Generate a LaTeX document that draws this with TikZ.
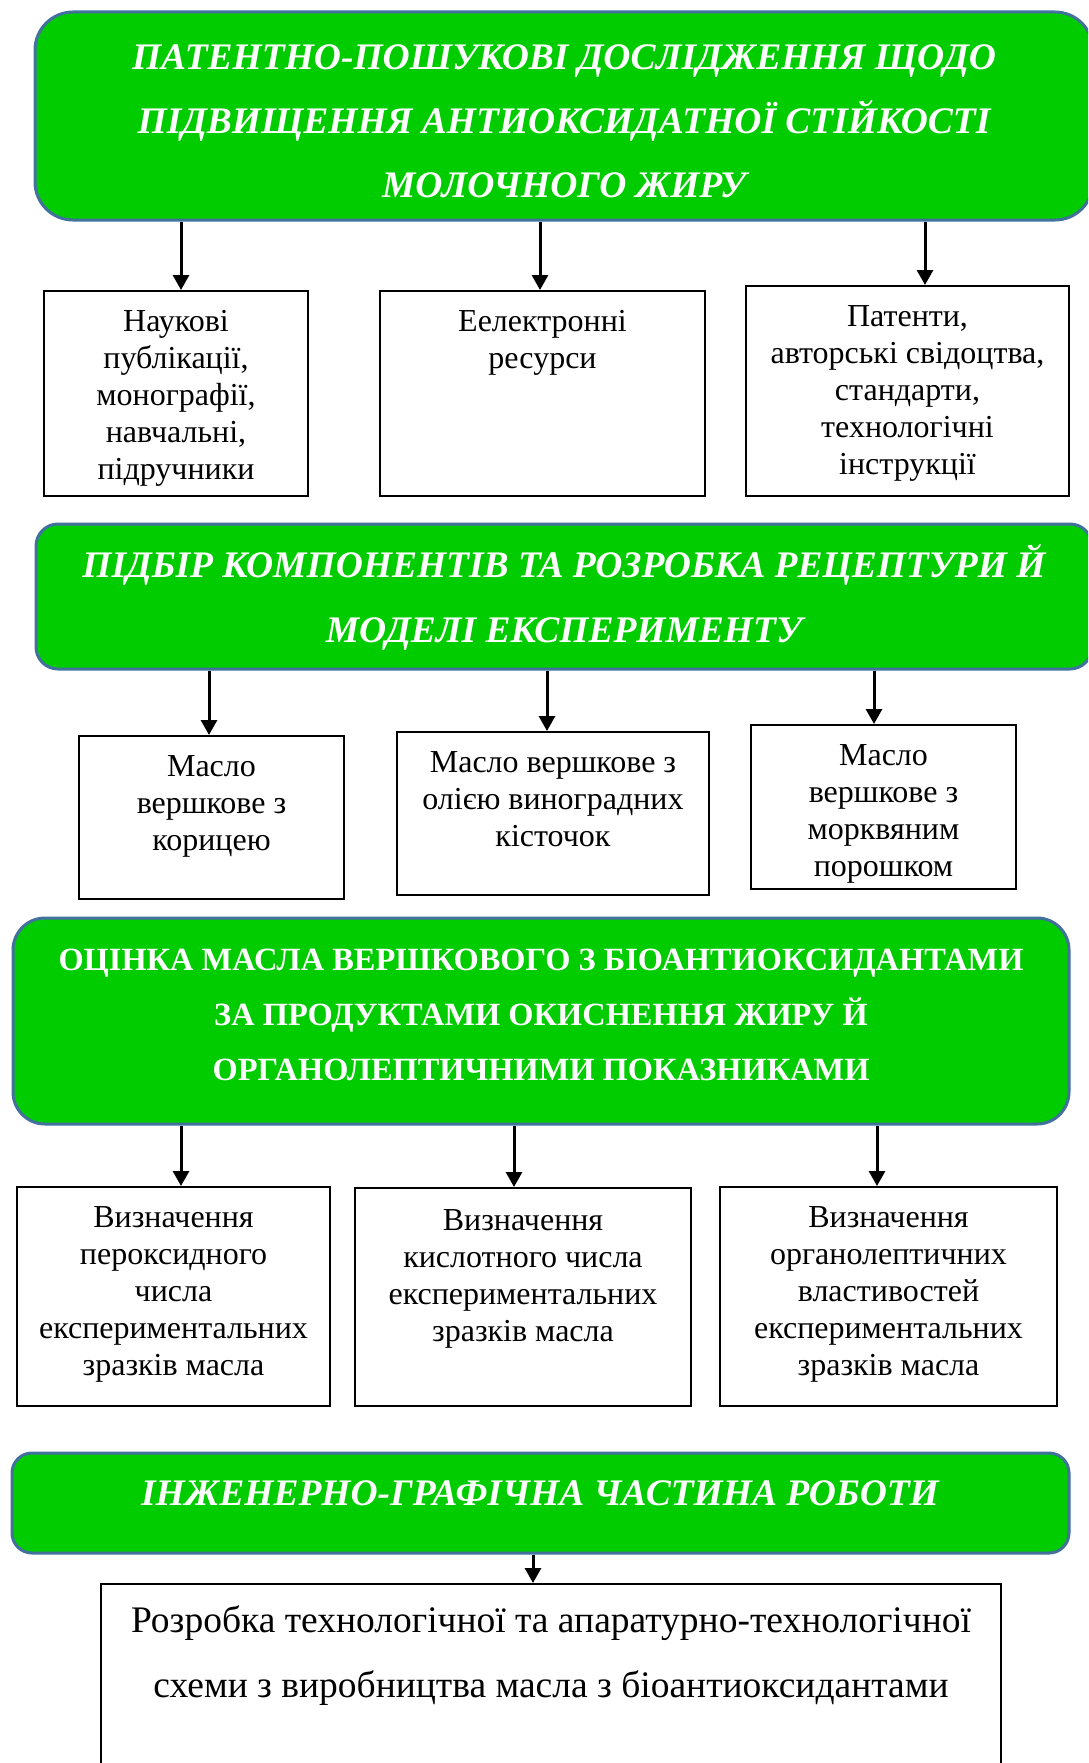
\documentclass[tikz,border=0pt]{standalone}
\usepackage{fontspec}
\setmainfont{Liberation Serif}
\usetikzlibrary{arrows.meta,calc}

\definecolor{grnfill}{HTML}{00CC00}
\definecolor{grnline}{HTML}{41719C}

\begin{document}
\begin{tikzpicture}[
  x=1pt, y=-1pt,
  hdr/.style={draw=grnline, line width=3pt, fill=grnfill, inner sep=0pt},
  hdrtxt/.style={text=white, align=center, inner sep=0pt,
                 font=\fontsize{37.5}{64}\selectfont\bfseries\itshape},
  box/.style={draw, line width=2pt, inner sep=0pt},
  boxtxt/.style={align=center, anchor=north, inner sep=0pt, yshift=-20pt,
                 font=\fontsize{32}{37}\selectfont},
  arr/.style={-{Triangle[length=15pt, width=16pt]}, line width=3pt}
]
\useasboundingbox (0,0) rectangle (1088,1763);
\clip (0,0) rectangle (1088,1763);

% patent search
\node[hdr, rounded corners=38pt, minimum width=1058pt, minimum height=208pt] (g1) at (564,116) {};
\node[hdrtxt] (g1txt) at (564,121) {ПАТЕНТНО-ПОШУКОВІ ДОСЛІДЖЕННЯ ЩОДО\\ ПІДВИЩЕННЯ АНТИОКСИДАТНОЇ СТІЙКОСТІ\\ МОЛОЧНОГО ЖИРУ};
\node[box, minimum width=264pt, minimum height=205pt] (b1a) at (176,393.5) {};
\node[box, minimum width=325pt, minimum height=205pt] (b1b) at (542.5,393.5) {};
\node[box, minimum width=323pt, minimum height=210pt] (b1c) at (907.5,391) {};
\node[boxtxt] (t1a) at (b1a.north) {Наукові\\ публікації,\\ монографії,\\ навчальні,\\ підручники};
\node[boxtxt] (t1b) at (b1b.north) {Еелектронні\\ ресурси};
\node[boxtxt] (t1c) at (b1c.north) {Патенти,\\ авторські свідоцтва,\\ стандарти,\\ технологічні\\ інструкції};

% recipe
\node[hdr, rounded corners=22pt, minimum width=1056pt, minimum height=145pt] (g2) at (564,596.5) {};
\node[hdrtxt, font=\fontsize{37.5}{65}\selectfont\bfseries\itshape] (g2txt) at (564,597) {ПІДБІР КОМПОНЕНТІВ ТА РОЗРОБКА РЕЦЕПТУРИ Й\\ МОДЕЛІ ЕКСПЕРИМЕНТУ};
\node[box, minimum width=265pt, minimum height=163pt] (b2a) at (211.5,817.5) {};
\node[box, minimum width=312pt, minimum height=163pt] (b2b) at (553,813.5) {};
\node[box, minimum width=265pt, minimum height=164pt] (b2c) at (883.5,807) {};
\node[boxtxt] (t2a) at (b2a.north) {Масло\\ вершкове з\\ корицею};
\node[boxtxt] (t2b) at (b2b.north) {Масло вершкове з\\ олією виноградних\\ кісточок};
\node[boxtxt] (t2c) at (b2c.north) {Масло\\ вершкове з\\ морквяним\\ порошком};

% evaluation
\node[hdr, rounded corners=32pt, minimum width=1056pt, minimum height=206pt] (g3) at (541,1021) {};
\node[hdrtxt, font=\fontsize{32.4}{55}\selectfont\bfseries] (g3txt) at (541,1015) {ОЦІНКА МАСЛА ВЕРШКОВОГО З БІОАНТИОКСИДАНТАМИ\\ ЗА ПРОДУКТАМИ ОКИСНЕННЯ ЖИРУ Й\\ ОРГАНОЛЕПТИЧНИМИ ПОКАЗНИКАМИ};
\node[box, minimum width=313pt, minimum height=219pt] (b3a) at (173.5,1296.5) {};
\node[box, minimum width=336pt, minimum height=218pt] (b3b) at (523,1297) {};
\node[box, minimum width=337pt, minimum height=219pt] (b3c) at (888.5,1296.5) {};
\node[boxtxt] (t3a) at (b3a.north) {Визначення\\ пероксидного\\ числа\\ експериментальних\\ зразків масла};
\node[boxtxt, yshift=-2pt] (t3b) at (b3b.north) {Визначення\\ кислотного числа\\ експериментальних\\ зразків масла};
\node[boxtxt] (t3c) at (b3c.north) {Визначення\\ органолептичних\\ властивостей\\ експериментальних\\ зразків масла};

% graphic part
\node[hdr, rounded corners=20pt, minimum width=1057pt, minimum height=100pt] (g4) at (540.5,1503) {};
\node[hdrtxt] (g4txt) at (540,1493) {ІНЖЕНЕРНО-ГРАФІЧНА ЧАСТИНА РОБОТИ};
\node[box, minimum width=900pt, minimum height=216pt] (b4) at (551,1692) {};
\node[boxtxt, yshift=-2pt, font=\fontsize{37.5}{65}\selectfont] (t4) at (b4.north) {Розробка технологічної та апаратурно-технологічної\\ схеми з виробництва масла з біоантиоксидантами};

% arrows
\coordinate (p1a) at ($(b1a.north)+(5,0)$);
\coordinate (p1b) at ($(b1b.north)+(-2.5,0)$);
\coordinate (p1c) at ($(b1c.north)+(17.5,0)$);
\coordinate (p2a) at ($(b2a.north)+(-2.5,0)$);
\coordinate (p2b) at ($(b2b.north)+(-6,0)$);
\coordinate (p2c) at ($(b2c.north)+(-9.5,0)$);
\coordinate (p3a) at ($(b3a.north)+(7.5,0)$);
\coordinate (p3b) at ($(b3b.north)+(-9,0)$);
\coordinate (p3c) at ($(b3c.north)+(-11.5,0)$);
\coordinate (p4) at ($(b4.north)+(-18,0)$);
\draw[arr] (p1a |- g1.south) -- (p1a);
\draw[arr] (p1b |- g1.south) -- (p1b);
\draw[arr] (p1c |- g1.south) -- (p1c);
\draw[arr] (p2a |- g2.south) -- (p2a);
\draw[arr] (p2b |- g2.south) -- (p2b);
\draw[arr] (p2c |- g2.south) -- (p2c);
\draw[arr] (p3a |- g3.south) -- (p3a);
\draw[arr] (p3b |- g3.south) -- (p3b);
\draw[arr] (p3c |- g3.south) -- (p3c);
\draw[arr] (p4 |- g4.south) -- (p4);
\end{tikzpicture}
\end{document}
